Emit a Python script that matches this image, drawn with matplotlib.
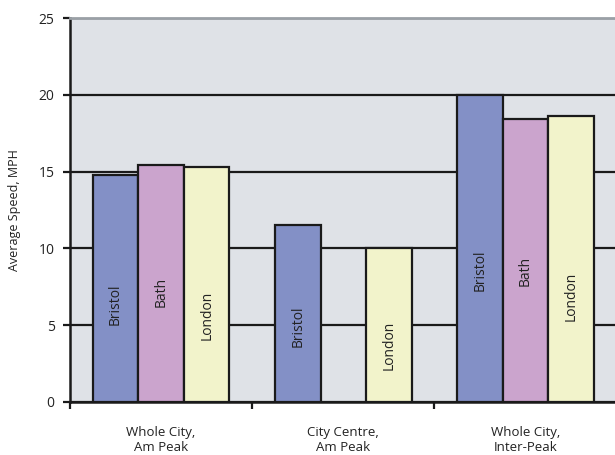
import numpy as np
import matplotlib.pyplot as plt

plt.rcParams['font.family'] = ['Open Sans', 'DejaVu Sans']

# datos
categorias = ['Whole City,\nAm Peak', 'City Centre,\nAm Peak', 'Whole City,\nInter-Peak']
ciudades = ['Bristol', 'Bath', 'London']
bristol = [14.8, 11.5, 20.0]
bath = [15.4, np.nan, 18.4]
london = [15.3, 10.0, 18.6]
yticks = [0, 5, 10, 15, 20, 25]

series = [bristol, bath, london]
colores = ['#8390C6', '#CBA4CD', '#F2F3CB']
pos_texto = [0.43, 0.465, 0.37]   # fraccion de la altura de la barra

fig = plt.figure(figsize=(6.15, 4.55), dpi=100)
ax = fig.add_axes([0.1138, 0.1165, 0.889, 0.8439])
ax.set_facecolor('#DFE2E7')

x = np.arange(len(categorias))
ancho = 0.25
for i, (vals, col) in enumerate(zip(series, colores)):
    xs = x + (i - 1) * ancho
    for xi, v in zip(xs, vals):
        if np.isnan(v):
            continue
        ax.bar(xi, v, width=ancho, color=col, edgecolor='#1a1a1a', linewidth=1.6, zorder=3)
        ax.text(xi, v * pos_texto[i], ciudades[i], rotation=90, ha='center', va='center',
                fontsize=10, color='#222222', zorder=4)

ax.set_ylim(0, 25)
ax.set_xlim(-0.5, len(categorias) - 0.5)
ax.set_yticks(yticks)
ax.yaxis.grid(True, color='#1a1a1a', linewidth=1.6, zorder=1)
ax.set_axisbelow(True)

ax.set_xticks(np.arange(-0.5, len(categorias), 1.0))
ax.set_xticklabels([])
ax.set_xticks(x, minor=True)
ax.set_xticklabels(categorias, minor=True, fontsize=9.5, color='#222222', linespacing=1.25)
ax.tick_params(axis='x', which='minor', length=0, pad=17)
ax.tick_params(axis='x', which='major', length=5, width=1.6, direction='out', color='#1a1a1a')
ax.tick_params(axis='y', length=5, width=1.6, direction='out', color='#1a1a1a',
               labelsize=10, labelcolor='#222222', pad=6)

ax.spines['right'].set_visible(False)
ax.spines['top'].set_color('#9AA0A6')
ax.spines['top'].set_linewidth(2)
ax.spines['left'].set_color('#1a1a1a')
ax.spines['left'].set_linewidth(1.8)
ax.spines['bottom'].set_color('#1a1a1a')
ax.spines['bottom'].set_linewidth(1.8)

ax.set_ylabel('Average Speed, MPH', fontsize=9, color='#222222', labelpad=13)

fig.savefig('out.png', dpi=100)
